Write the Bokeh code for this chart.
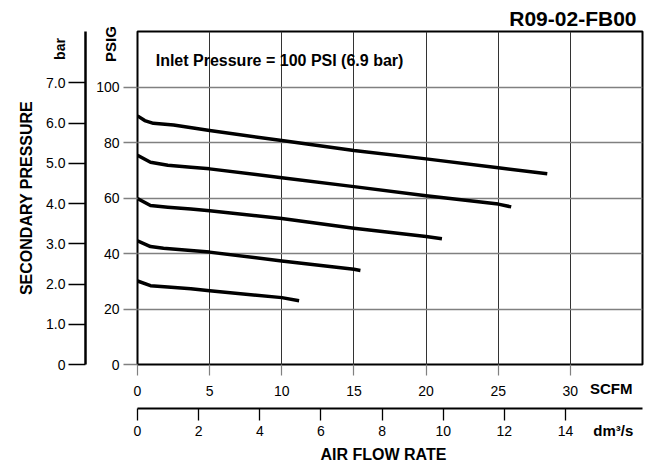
from bokeh.plotting import figure
from bokeh.models import Range1d, LinearAxis, FixedTicker, Label, PrintfTickFormatter, Title
from bokeh.embed import file_html
from bokeh.resources import INLINE

# ---- data ----
scfm_ticks = [0, 5, 10, 15, 20, 25, 30]
dm3_ticks = [0, 2, 4, 6, 8, 10, 12, 14]
psig_ticks = [0, 20, 40, 60, 80, 100]
bar_ticks = [0, 1, 2, 3, 4, 5, 6, 7]

scfm_1 = [0, 0.5, 1.1, 2.5, 5, 10, 15, 20, 25, 28.4]
psig_1 = [89.6, 87.9, 86.9, 86.3, 84.3, 80.7, 77.1, 74.1, 70.9, 68.7]
scfm_2 = [0, 0.9, 2.1, 3.7, 5, 10, 15, 20, 25, 25.9]
psig_2 = [75.4, 72.9, 71.8, 71.1, 70.5, 67.3, 64.1, 60.8, 57.8, 56.8]
scfm_3 = [0, 0.9, 2.1, 3.7, 5, 10, 15, 20, 21.1]
psig_3 = [59.8, 57.3, 56.7, 56.0, 55.4, 52.6, 49.1, 46.1, 45.3]
scfm_4 = [0, 0.9, 1.8, 3.7, 5, 10, 15, 15.45]
psig_4 = [44.6, 42.5, 41.9, 41.1, 40.5, 37.3, 34.3, 33.9]
scfm_5 = [0, 0.9, 2.1, 3.7, 5, 10, 11.2]
psig_5 = [30.1, 28.4, 27.9, 27.3, 26.6, 24.1, 23.0]

curves = [(scfm_1, psig_1), (scfm_2, psig_2), (scfm_3, psig_3), (scfm_4, psig_4), (scfm_5, psig_5)]

SCFM_MAX = 35
PSIG_MAX = 120
SCFM_TO_DM3 = 0.471947
PSI_PER_BAR = 14.5038

FONT = "Liberation Sans"
NB = "\u00a0"

p = figure(width=650, height=464, output_backend="svg", toolbar_location=None,
           x_range=Range1d(0, SCFM_MAX), y_range=Range1d(0, PSIG_MAX),
           min_border_left=136, min_border_right=8, min_border_top=31, min_border_bottom=97)
p.background_fill_color = "white"
p.border_fill_color = "white"
p.outline_line_color = "black"
p.outline_line_width = 2

p.extra_x_ranges = {"dm3": Range1d(0, SCFM_MAX * SCFM_TO_DM3)}
p.extra_y_ranges = {"bar": Range1d(0, PSIG_MAX / PSI_PER_BAR)}

def bold(obj, prefix, size):
    setattr(obj, prefix + "text_font", FONT)
    setattr(obj, prefix + "text_font_size", size)
    setattr(obj, prefix + "text_font_style", "bold")
    setattr(obj, prefix + "text_color", "black")

# title (chart code, top right)
p.add_layout(Title(text="R09-02-FB00", align="right", text_font=FONT, text_font_size="21px",
                   text_font_style="bold", text_color="black", offset=6, standoff=3), "above")

# grids
p.xgrid.ticker = FixedTicker(ticks=scfm_ticks)
p.xgrid.grid_line_color = "#333333"
p.xgrid.grid_line_width = 1
p.ygrid.ticker = FixedTicker(ticks=psig_ticks)
p.ygrid.grid_line_color = "#808080"
p.ygrid.grid_line_width = 1.4

# ---------- bottom: SCFM axis ----------
xa = p.xaxis[0]
xa.ticker = FixedTicker(ticks=scfm_ticks)
xa.axis_line_color = None
xa.major_tick_in = 0
xa.major_tick_out = 11
xa.minor_tick_line_color = None
xa.major_tick_line_color = "#808080"
xa.major_tick_line_width = 1.2
xa.major_label_text_font = FONT
xa.major_label_text_font_size = "14px"
xa.major_label_text_color = "black"
xa.major_label_standoff = 10
xa.axis_label = "SCFM" + NB * 15
bold(xa, "axis_label_", "15px")
xa.axis_label_align = "end"
xa.axis_label_standoff = -19

# spacer between the two flow axes
p.add_layout(Title(text=" ", text_font_size="1px", standoff=6), "below")

# ---------- bottom: dm3/s axis ----------
da = LinearAxis(x_range_name="dm3", ticker=FixedTicker(ticks=dm3_ticks))
da.axis_line_color = "black"
da.axis_line_width = 2
da.major_tick_in = 0
da.major_tick_out = 12
da.minor_tick_line_color = None
da.major_tick_line_color = "black"
da.major_tick_line_width = 1.3
da.major_label_text_font = FONT
da.major_label_text_font_size = "14px"
da.major_label_text_color = "black"
da.major_label_standoff = 5
da.axis_label = "dm³/s" + NB * 14
bold(da, "axis_label_", "15px")
da.axis_label_align = "end"
da.axis_label_standoff = -17
p.add_layout(da, "below")

t_flow = Title(text="AIR FLOW RATE", align="left", offset=183, standoff=4)
bold(t_flow, "", "16px")
p.add_layout(t_flow, "below")

# ---------- left: PSIG axis ----------
ya = p.yaxis[0]
ya.ticker = FixedTicker(ticks=psig_ticks)
ya.axis_line_color = None
ya.major_tick_in = 0
ya.major_tick_out = 14
ya.minor_tick_line_color = None
ya.major_tick_line_color = "#808080"
ya.major_tick_line_width = 1.4
ya.major_label_text_font = FONT
ya.major_label_text_font_size = "14px"
ya.major_label_text_color = "black"
ya.major_label_standoff = 4
ya.axis_label = "PSIG" + NB * 6
bold(ya, "axis_label_", "15px")
ya.axis_label_align = "end"
ya.axis_label_standoff = -26

# spacer between the two pressure axes
p.add_layout(Title(text=" ", text_font_size="1px", standoff=11), "left")

# ---------- left: bar axis ----------
ba = LinearAxis(y_range_name="bar", ticker=FixedTicker(ticks=bar_ticks),
                formatter=PrintfTickFormatter(format="%.1f"))
ba.major_label_overrides = {0: "0"}
ba.axis_line_color = "black"
ba.axis_line_width = 2.5
ba.major_tick_in = 0
ba.major_tick_out = 17
ba.minor_tick_line_color = None
ba.major_tick_line_color = "black"
ba.major_tick_line_width = 1.5
ba.major_label_text_font = FONT
ba.major_label_text_font_size = "14px"
ba.major_label_text_color = "black"
ba.major_label_standoff = 3
ba.axis_label = "bar" + NB * 9
bold(ba, "axis_label_", "14px")
ba.axis_label_align = "end"
ba.axis_label_standoff = -25
p.add_layout(ba, "left")

t_sec = Title(text="SECONDARY PRESSURE", align="center", standoff=30)
bold(t_sec, "", "16px")
p.add_layout(t_sec, "left")

# curves
for xs, ys in curves:
    p.line(xs, ys, line_color="black", line_width=3.5, line_cap="butt", line_join="round")

# inlet pressure note inside the plot
p.add_layout(Label(x=1.26, y=109.7, text="Inlet Pressure = 100 PSI (6.9 bar)", text_font=FONT,
                   text_font_size="16px", text_font_style="bold", text_baseline="middle",
                   text_color="black"))

open("out.html", "w").write(file_html(p, INLINE))
